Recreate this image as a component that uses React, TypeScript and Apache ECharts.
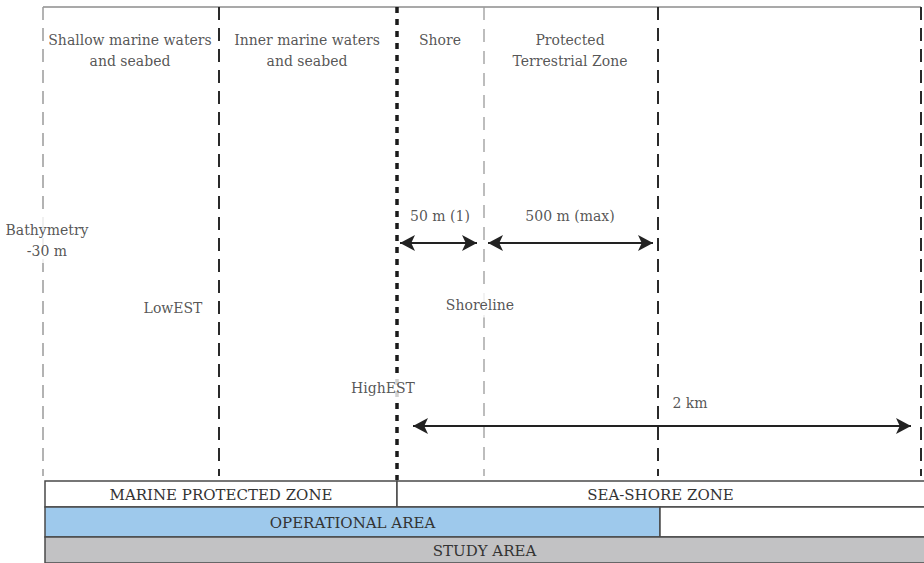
import React, { useEffect, useRef } from "react";
import * as echarts from "echarts";

const W = 924;
const H = 563;

// Zone boundaries (diagram units = pixels across the figure)
const boundaryX = [43, 219, 397, 484, 658, 921];
const boundaryKind = ["bathymetry", "lowEST", "highEST", "shoreline", "limit", "limit"];
const boundaryTop = 7;
const boundaryBottom = [476, 476, 480, 476, 476, 476];

// Zone titles
const zoneTitles = [
  "Shallow marine waters\nand seabed",
  "Inner marine waters\nand seabed",
  "Shore",
  "Protected\nTerrestrial Zone",
];
const zoneTitleX = [130, 307, 440, 570];
const zoneTitleY = [50, 50, 40, 50];

// Marker labels
const markerLabels = ["Bathymetry\n-30 m", "LowEST", "Shoreline", "HighEST"];
const markerX = [47, 173, 480, 383];
const markerY = [240, 308, 305, 388];

// Distances (double arrows)
const distanceLabels = ["50 m (1)", "500 m (max)", "2 km"];
const distanceFrom = [400, 488, 413];
const distanceTo = [477, 653, 911];
const distanceY = [243, 243, 426];
const distanceLabelX = [440, 570, 690];
const distanceLabelY = [216, 216, 403];

// Bottom bands
const bandNames = ["MARINE PROTECTED ZONE", "SEA-SHORE ZONE", "OPERATIONAL AREA", "", "STUDY AREA"];
const bandStart = [45, 397, 45, 660, 45];
const bandEnd = [397, 926, 660, 926, 926];
const bandRow = [0, 0, 1, 1, 2];
const rowTop = [481, 507, 537];
const rowBottom = [507, 537, 563];

const FONT = "DejaVu Serif";

const boundaryStyle: Record<string, any> = {
  bathymetry: { color: "#9a9a9a", width: 1.5, type: [13, 8] },
  lowEST: { color: "#2a2a2a", width: 2, type: [13, 8] },
  highEST: { color: "#1a1a1a", width: 3.5, type: [6, 6] },
  shoreline: { color: "#9a9a9a", width: 1.3, type: [13, 9] },
  limit: { color: "#2a2a2a", width: 2, type: [13, 8] },
};

const bandFill = (i: number) => {
  if (bandNames[i] === "OPERATIONAL AREA") return "#9ec9ec";
  if (bandNames[i] === "STUDY AREA") return "#c2c2c4";
  return "#ffffff";
};

export default function App() {
  const ref = useRef<HTMLDivElement>(null);
  useEffect(() => {
    if (!ref.current) return;
    const chart = echarts.init(ref.current, undefined, { renderer: "svg" });

    const boundarySeries = boundaryX.map((x, i) => ({
      type: "line",
      silent: true,
      symbol: "none",
      z: 2,
      data: [
        [x, boundaryTop],
        [x, boundaryBottom[i]],
      ],
      lineStyle: { ...boundaryStyle[boundaryKind[i]], cap: "butt" },
    }));

    const labelData: any[] = [];
    zoneTitles.forEach((t, i) =>
      labelData.push({ value: [zoneTitleX[i], zoneTitleY[i]], name: t, label: {} })
    );
    markerLabels.forEach((t, i) =>
      labelData.push({
        value: [markerX[i], markerY[i]],
        name: t,
        label: { backgroundColor: "#ffffff", padding: [2, 2, 2, 2] },
      })
    );
    distanceLabels.forEach((t, i) =>
      labelData.push({ value: [distanceLabelX[i], distanceLabelY[i]], name: t, label: {} })
    );

    const option: any = {
      animation: false,
      backgroundColor: "#ffffff",
      textStyle: { fontFamily: FONT },
      grid: { left: 0, right: 0, top: 0, bottom: 0 },
      xAxis: { type: "value", min: 0, max: W, show: false },
      yAxis: { type: "value", min: 0, max: H, inverse: true, show: false },
      series: [
        {
          type: "line",
          silent: true,
          symbol: "none",
          z: 2,
          data: [
            [boundaryX[0], boundaryTop],
            [boundaryX[boundaryX.length - 1], boundaryTop],
          ],
          lineStyle: { color: "#8c8c8c", width: 1.5 },
          markLine: {
            silent: true,
            symbol: ["arrow", "arrow"],
            symbolSize: [12, 15],
            label: { show: false },
            lineStyle: { type: "solid", color: "#222", width: 2 },
            data: distanceLabels.map((_, i) => [
              { coord: [distanceFrom[i], distanceY[i]] },
              { coord: [distanceTo[i], distanceY[i]] },
            ]),
          },
        },
        ...boundarySeries,
        {
          type: "custom",
          silent: true,
          z: 3,
          data: bandNames.map((_, i) => [bandStart[i], bandEnd[i], bandRow[i]]),
          renderItem: (params: any, api: any) => {
            const i = params.dataIndex;
            const r = api.value(2);
            const p0 = api.coord([api.value(0), rowTop[r]]);
            const p1 = api.coord([api.value(1), rowBottom[r]]);
            return {
              type: "group",
              children: [
                {
                  type: "rect",
                  shape: { x: p0[0], y: p0[1], width: p1[0] - p0[0], height: p1[1] - p0[1] },
                  style: { fill: bandFill(i), stroke: "#4a4a4a", lineWidth: 1.5 },
                },
                {
                  type: "text",
                  x: (p0[0] + Math.min(p1[0], W)) / 2,
                  y: (p0[1] + p1[1]) / 2 + 1,
                  style: {
                    text: bandNames[i],
                    align: "center",
                    verticalAlign: "middle",
                    fontFamily: FONT,
                    fontSize: 15,
                    fill: "#333333",
                  },
                },
              ],
            };
          },
        },
        {
          type: "scatter",
          silent: true,
          z: 5,
          symbolSize: 1,
          itemStyle: { color: "rgba(0,0,0,0)" },
          data: labelData,
          label: {
            show: true,
            position: "inside",
            formatter: (p: any) => p.name,
            fontFamily: FONT,
            fontSize: 14,
            lineHeight: 21,
            color: "#2a2a2a",
            align: "center",
            verticalAlign: "middle",
          },
        },
      ],
    };
    chart.setOption(option);
    return () => chart.dispose();
  }, []);

  return (
    <div
      ref={ref}
      style={{ position: "fixed", left: 0, top: 0, width: W, height: H, background: "#fff" }}
    />
  );
}
